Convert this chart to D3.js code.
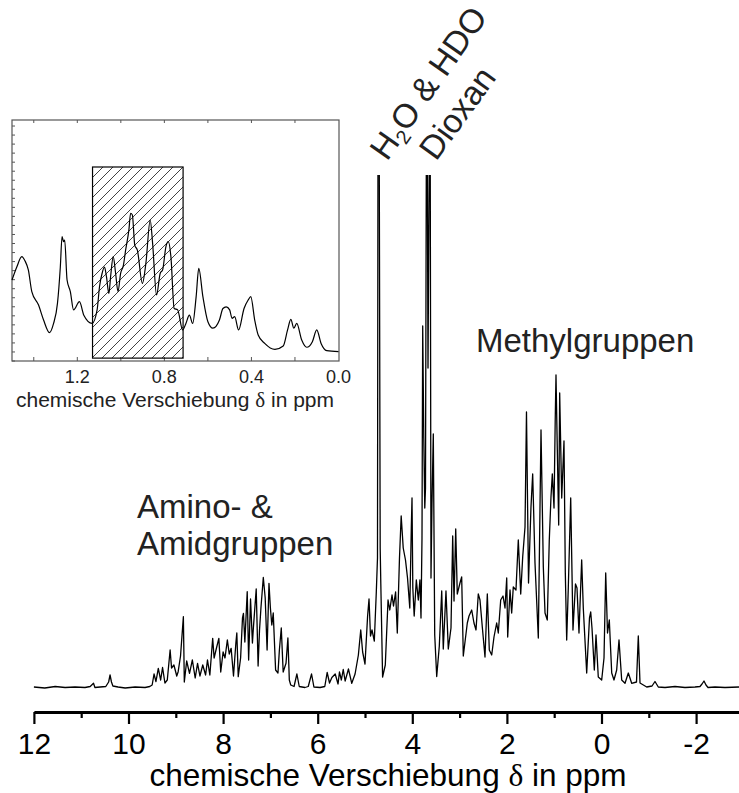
<!DOCTYPE html>
<html><head><meta charset="utf-8">
<script src="https://cdn.jsdelivr.net/npm/d3@7"></script>
<style>body{margin:0;background:#fff}svg{display:block}</style>
</head><body>
<svg id="c" width="739" height="793"></svg>
<script>
// ---------- main 1H NMR spectrum ----------
const shiftPpm = [12.00,11.77,11.55,11.34,11.13,10.92,10.81,10.74,10.71,10.60,10.48,10.42,10.39,10.36,10.33,10.22,10.07,9.86,9.65,9.55,9.50,9.46,9.42,9.37,9.32,9.28,9.23,9.18,9.12,9.09,9.04,8.98,8.95,8.90,8.84,8.82,8.77,8.71,8.65,8.59,8.54,8.49,8.43,8.37,8.33,8.28,8.22,8.19,8.14,8.09,8.05,8.00,7.96,7.91,7.87,7.83,7.78,7.73,7.71,7.68,7.63,7.59,7.57,7.54,7.49,7.46,7.42,7.38,7.36,7.30,7.26,7.23,7.20,7.15,7.11,7.07,7.03,7.00,6.97,6.94,6.89,6.84,6.81,6.77,6.73,6.67,6.63,6.60,6.57,6.50,6.44,6.39,6.27,6.20,6.13,6.08,5.95,5.85,5.80,5.75,5.70,5.63,5.57,5.54,5.50,5.46,5.42,5.35,5.28,5.21,5.14,5.09,5.05,5.00,4.945,4.915,4.884,4.852,4.803,4.761,4.736,4.725,4.700,4.679,4.666,4.628,4.571,4.513,4.476,4.429,4.397,4.353,4.317,4.271,4.235,4.192,4.144,4.101,4.053,4.021,4.006,3.989,3.960,3.915,3.873,3.839,3.816,3.795,3.780,3.757,3.736,3.721,3.702,3.685,3.668,3.638,3.622,3.605,3.584,3.556,3.526,3.484,3.429,3.378,3.345,3.288,3.239,3.182,3.146,3.118,3.082,3.049,2.992,2.956,2.922,2.837,2.801,2.744,2.696,2.653,2.605,2.569,2.520,2.463,2.414,2.372,2.321,2.273,2.216,2.182,2.131,2.082,2.040,2.004,1.983,1.934,1.899,1.865,1.808,1.759,1.708,1.666,1.617,1.586,1.543,1.491,1.455,1.406,1.336,1.279,1.230,1.194,1.146,1.104,1.068,1.040,1.004,0.979,0.962,0.934,0.905,0.884,0.841,0.793,0.765,0.736,0.702,0.651,0.603,0.550,0.518,0.476,0.419,0.385,0.313,0.254,0.228,0.201,0.152,0.116,0.068,-0.004,-0.053,-0.089,-0.127,-0.165,-0.216,-0.264,-0.321,-0.370,-0.427,-0.497,-0.567,-0.638,-0.740,-0.778,-0.814,-0.956,-1.068,-1.131,-1.201,-1.343,-1.554,-1.765,-1.977,-2.082,-2.125,-2.167,-2.209,-2.252,-2.400,-2.611,-2.907];
const intensity = [1,0,1.5,0.5,1,0.5,1.5,4.7,0.5,1,1.5,6,13,6,2,1,0,1,0.5,1.5,3,14,6.3,19.7,8,20.5,5,8,38,20,23,12,16.3,32,71.3,6,27,14.7,28,10,24.7,12,23,13,28,13,49.7,30,40,49.7,16,36,30,48,34,39.7,12,45,55,11.3,30,70,74.7,46,96.3,28,89,45,60,99,22,58,80,110.5,90,38,104.7,80,63,75,18,15,38,60,16,24.7,50,8,3,1.5,14,1.5,0.5,1.5,14,1,0.5,1.5,15.5,5,10.5,14,4,16,8,18.5,7,19,4.7,14,33,58,36,24,72,89,52,58,47,96,130,560,560,140,105,11,23,88,78,93,82,96,55,130,172,140,128,110,80,160,190,100,72,108,88,108,70,150,362,250,180,200,560,560,320,560,560,110,184,254,53,11.5,42,97,39,97,39,60,152,87,159,94,105,111,32,65,72,78,65,58,94,88,61,31,94,38,33,51,65,55,88,92,80,110,51,98,75,101,98,148,94,131,161,276,105,181,214,125,50,258,121,75,68,148,191,214,180,266,313,238,163,295,190,247,115,48,100,190,58,104,100,55,128,80,15,70,76,60,18,53,11,8,30,115,55,68,15,8,18,48,8,4.7,15,4.7,6,52,5,1,2,6.5,1,0.5,1.5,0.5,1,1.5,4,7,3,0.5,1,0.5,1];
const mainTicks = [12,10,8,6,4,2,0,-2];
const mainMinorTicks = [11,9,7,5,3,1,-1];
const mainTitle = "chemische Verschiebung ";

// ---------- inset: methyl region 1.5 ... 0 ppm ----------
const insetPpm = [1.5,1.478,1.455,1.44,1.425,1.409,1.378,1.355,1.328,1.309,1.291,1.278,1.27,1.263,1.258,1.247,1.232,1.217,1.19,1.17,1.132,1.109,1.098,1.086,1.075,1.066,1.055,1.047,1.035,1.024,1.013,1.001,0.988,0.978,0.963,0.955,0.947,0.936,0.924,0.901,0.885,0.865,0.854,0.836,0.819,0.808,0.793,0.782,0.77,0.755,0.739,0.716,0.701,0.685,0.67,0.654,0.642,0.623,0.6,0.577,0.547,0.531,0.516,0.5,0.489,0.477,0.459,0.434,0.415,0.403,0.385,0.369,0.339,0.292,0.254,0.234,0.219,0.205,0.192,0.169,0.146,0.12,0.1,0.08,0.054,0];
const insetIntensity = [33.6,39,43.3,41.5,37.8,28.8,23.2,17,11.8,15.6,24,39,51.6,49.5,50.2,33.6,28.8,21.2,24.6,19,15.6,21.2,30.8,36.4,39,35,28,35,43.3,36.4,28.8,36.4,39.8,46,54.4,61.3,60.6,48.1,46,32.2,40.5,58.5,48.8,27.4,36.4,37.8,47.4,49.5,43.3,21.8,21.2,12.9,15.6,19,15.6,26.7,38.4,26.7,16.3,13.6,17,21.8,22.5,21.2,17.7,18.4,12.9,21.8,25.3,26.7,17,10.8,7.3,4.8,6.2,12.9,17.3,13.6,15.6,8.7,5.7,8,12.9,7.3,4.3,3.9];
const insetTicks = [1.2,0.8,0.4,0.0];
const insetMinorTicks = [1.4,1.2,1.0,0.8,0.6,0.4,0.2];
const hatchPpm = [1.13, 0.714];
const hatchIntensity = [1.2, 80.5];

const svg = d3.select("#c");
const FONT = "'Liberation Sans', Arial, Helvetica, sans-serif";
const defs = svg.append("defs");
defs.append("clipPath").attr("id","plotclip").append("rect")
  .attr("x",0).attr("y",175).attr("width",739).attr("height",530);
const pat = defs.append("pattern").attr("id","hatch").attr("patternUnits","userSpaceOnUse")
  .attr("width",10).attr("height",10);
pat.append("path").attr("d","M-1,11 L11,-1 M-1,1 L1,-1 M9,11 L11,9")
  .attr("stroke","#111").attr("stroke-width",0.8).attr("fill","none");

// main scales
const x = d3.scaleLinear().domain([12, -2.907]).range([33.9, 739]);
const y = d3.scaleLinear().domain([0, 513]).range([688, 175]);
const mainData = shiftPpm.map((p,i)=>[p,intensity[i]]);

svg.append("path").datum(mainData)
  .attr("clip-path","url(#plotclip)")
  .attr("fill","none").attr("stroke","#000").attr("stroke-width",1.3)
  .attr("stroke-linejoin","round")
  .attr("d", d3.line().x(d=>x(d[0])).y(d=>y(d[1])));

// main axis
const axisY = 712;
const ax = svg.append("g").attr("transform",`translate(0,${axisY})`)
  .call(d3.axisBottom(x).tickValues(mainTicks).tickSize(12).tickSizeOuter(0).tickFormat(d=>String(d)));
ax.select(".domain").attr("stroke","#000").attr("stroke-width",3);
ax.selectAll(".tick line").attr("stroke","#000").attr("stroke-width",2.2);
ax.selectAll(".tick text").attr("font-family",FONT).attr("font-size",30).attr("fill","#000")
  .attr("y",42).attr("dy",0);
const axm = svg.append("g").attr("transform",`translate(0,${axisY})`)
  .call(d3.axisBottom(x).tickValues(mainMinorTicks).tickSize(6).tickSizeOuter(0).tickFormat(""));
axm.select(".domain").remove();
axm.selectAll(".tick line").attr("stroke","#000").attr("stroke-width",2.2);

const mt = svg.append("text").attr("x",388).attr("y",786).attr("text-anchor","middle")
  .attr("font-family",FONT).attr("font-size",31.5).attr("fill","#000").text(mainTitle);
mt.append("tspan").attr("font-family","'Liberation Serif', serif").text("δ");
mt.append("tspan").text(" in ppm");

// region labels
const lab = (tx,ty,t)=>svg.append("text").attr("x",tx).attr("y",ty)
  .attr("font-family",FONT).attr("font-size",33).attr("fill","#222").text(t);
lab(137,518,"Amino- &");
lab(137,555,"Amidgruppen");
lab(476,352,"Methylgruppen");

const h2o = svg.append("text").attr("transform","translate(387,162) rotate(-55)")
  .attr("font-family",FONT).attr("font-size",33.5).attr("fill","#222");
h2o.append("tspan").text("H");
h2o.append("tspan").attr("font-size",20).attr("dy",6).text("2");
h2o.append("tspan").attr("dy",-6).text("O & HDO");
svg.append("text").attr("transform","translate(436,162) rotate(-54)")
  .attr("font-family",FONT).attr("font-size",33.5).attr("fill","#222").text("Dioxan");

// ---------- inset ----------
const ix = d3.scaleLinear().domain([1.5, 0]).range([12, 338.5]);
const iy = d3.scaleLinear().domain([0, 100]).range([361, 120]);
const ig = svg.append("g");
ig.append("rect").attr("x",12).attr("y",120).attr("width",327).attr("height",241)
  .attr("fill","none").attr("stroke","#555").attr("stroke-width",1.2);
ig.selectAll(".tt").data(insetMinorTicks).join("line")
  .attr("x1",d=>ix(d)).attr("x2",d=>ix(d)).attr("y1",120).attr("y2",123)
  .attr("stroke","#555").attr("stroke-width",1);
ig.selectAll(".tb").data(insetMinorTicks).join("line")
  .attr("x1",d=>ix(d)).attr("x2",d=>ix(d)).attr("y1",361).attr("y2",357)
  .attr("stroke","#555").attr("stroke-width",1);
const leftTicks = d3.range(0, 100, 3.75);
ig.selectAll(".tl").data(leftTicks).join("line")
  .attr("x1",12).attr("x2",15).attr("y1",d=>iy(d)).attr("y2",d=>iy(d))
  .attr("stroke","#555").attr("stroke-width",1);
ig.append("rect").attr("x",ix(hatchPpm[0])).attr("y",iy(hatchIntensity[1]))
  .attr("width",ix(hatchPpm[1])-ix(hatchPpm[0])).attr("height",iy(hatchIntensity[0])-iy(hatchIntensity[1]))
  .attr("fill","url(#hatch)").attr("stroke","#000").attr("stroke-width",1.2);
const insetData = insetPpm.map((p,i)=>[p,insetIntensity[i]]);
ig.append("path").datum(insetData).attr("fill","none").attr("stroke","#000").attr("stroke-width",1.2)
  .attr("d", d3.line().x(d=>ix(d[0])).y(d=>iy(d[1])).curve(d3.curveMonotoneX));
ig.selectAll(".il").data(insetTicks).join("text")
  .attr("x",d=>ix(d)).attr("y",383).attr("text-anchor","middle")
  .attr("font-family",FONT).attr("font-size",18).attr("fill","#222")
  .text(d=>d.toFixed(1));
const it = ig.append("text").attr("x",175).attr("y",407).attr("text-anchor","middle")
  .attr("font-family",FONT).attr("font-size",21).attr("fill","#222").text("chemische Verschiebung ");
it.append("tspan").attr("font-family","'Liberation Serif', serif").text("δ");
it.append("tspan").text(" in ppm");
</script>
</body></html>
